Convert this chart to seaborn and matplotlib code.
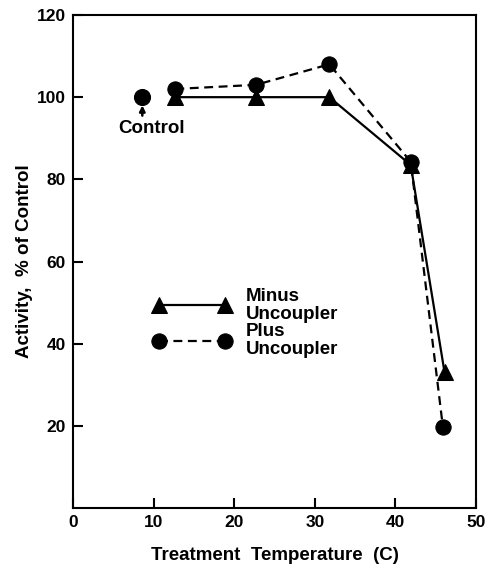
import matplotlib

matplotlib.use("Agg")

import matplotlib.pyplot as plt
import pandas as pd
import seaborn as sns

# values
temps = [12.7, 22.7, 31.8, 41.9, 46.1]
minus_uncoupler = [100, 100, 100, 83.5, 33]
plus_temps = [12.7, 22.7, 31.8, 41.9, 45.9]
plus_uncoupler = [102, 103, 108, 84.3, 19.6]
control_temp = [8.6]
control_activity = [100]

x_ticks = [0, 10, 20, 30, 40, 50]
y_ticks = [20, 40, 60, 80, 100, 120]

sns.set_theme(style="ticks")
plt.rcParams["font.family"] = ["Liberation Sans", "DejaVu Sans"]
plt.rcParams["font.weight"] = "bold"
plt.rcParams["text.color"] = "black"
plt.rcParams["axes.labelcolor"] = "black"

df = pd.concat(
    [
        pd.DataFrame({"temp": temps, "activity": minus_uncoupler,
                      "series": "Minus\nUncoupler"}),
        pd.DataFrame({"temp": plus_temps, "activity": plus_uncoupler,
                      "series": "Plus\nUncoupler"}),
    ],
    ignore_index=True,
)

fig, ax = plt.subplots(figsize=(4.91, 5.68), dpi=100)
fig.subplots_adjust(left=73 / 491, right=476 / 491, bottom=1 - 508 / 568, top=1 - 15 / 568)

sns.lineplot(
    data=df, x="temp", y="activity", style="series",
    markers={"Minus\nUncoupler": "^", "Plus\nUncoupler": "o"},
    dashes={"Minus\nUncoupler": "", "Plus\nUncoupler": (4, 2.5)},
    color="black", linewidth=1.6, markersize=11, markeredgecolor="black",
    sort=False, ax=ax,
)
sns.scatterplot(x=control_temp, y=control_activity, color="black", s=130,
                marker="o", edgecolor="black", ax=ax, legend=False)

# short upward arrow under the control point
ax.annotate(
    "", xy=(control_temp[0], control_activity[0] - 2),
    xytext=(control_temp[0], 95.5),
    arrowprops=dict(arrowstyle="-|>", color="black", lw=1.8,
                    shrinkA=0, shrinkB=0, mutation_scale=8),
)
ax.text(9.8, 92.4, "Control", ha="center", va="center", fontsize=13.5,
        fontweight="bold")

ax.set_xlim(0, 50)
ax.set_ylim(0, 120)
ax.set_xticks(x_ticks)
ax.set_yticks(y_ticks)
ax.tick_params(direction="in", length=7, width=1.5, labelsize=12.5, pad=5,
               colors="black")
for s in ax.spines.values():
    s.set_linewidth(1.5)
    s.set_color("black")
for lab in ax.get_xticklabels() + ax.get_yticklabels():
    lab.set_fontweight("bold")

ax.set_xlabel("Treatment  Temperature  (C)", fontsize=13.5, fontweight="bold",
              labelpad=12)
ax.set_ylabel("Activity,  % of Control", fontsize=13.5, fontweight="bold",
              labelpad=3)

leg = ax.legend(
    loc="upper left", bbox_to_anchor=(0.182, 0.462), frameon=False,
    handlelength=4.1, numpoints=2, fontsize=13.5, labelspacing=0.0,
    handletextpad=0.8, borderaxespad=0,
)
for t in leg.get_texts():
    t.set_fontweight("bold")
    t.set_linespacing(1.1)

fig.savefig("out.png", dpi=100)
